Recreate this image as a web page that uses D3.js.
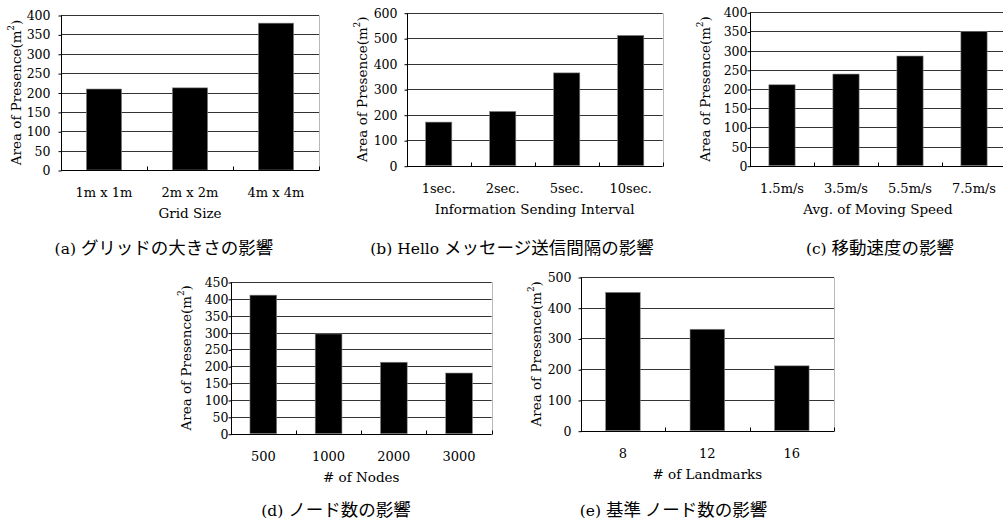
<!DOCTYPE html>
<html>
<head>
<meta charset="utf-8">
<script src="https://cdn.jsdelivr.net/npm/d3@7"></script>
<style>
  html, body { margin: 0; padding: 0; background: #fff; }
  svg { display: block; }
</style>
</head>
<body>
<svg id="fig" width="1003" height="521"></svg>
<script>
// ---- data ----
const gridSizeCats = ["1m x 1m", "2m x 2m", "4m x 4m"];
const gridSizeVals = [209, 212, 379];

const intervalCats = ["1sec.", "2sec.", "5sec.", "10sec."];
const intervalVals = [171, 213, 364, 511];

const speedCats = ["1.5m/s", "3.5m/s", "5.5m/s", "7.5m/s"];
const speedVals = [211, 239, 286, 350];

const nodeCats = ["500", "1000", "2000", "3000"];
const nodeVals = [411, 296, 212, 180];

const landmarkCats = ["8", "12", "16"];
const landmarkVals = [450, 330, 211];

const ticksA = [0, 50, 100, 150, 200, 250, 300, 350, 400];
const ticksB = [0, 100, 200, 300, 400, 500, 600];
const ticksC = [0, 50, 100, 150, 200, 250, 300, 350, 400];
const ticksD = [0, 50, 100, 150, 200, 250, 300, 350, 400, 450];
const ticksE = [0, 100, 200, 300, 400, 500];

const yLabel = "Area of Presence(m";

const SERIF = '"DejaVu Serif", "Liberation Serif", serif';
const CJK = '"Noto Sans CJK JP", "Noto Sans", sans-serif';

// ---- panel layout ----
const panels = [
  { cats: gridSizeCats, vals: gridSizeVals, ticks: ticksA, xTitle: "Grid Size",
    x0: 61, x1: 319, top: 15, bottom: 170, gap: 11,
    capX: 164, capY: 254, capSerif: "(a) ", capCjk: "グリッドの大きさの影響" },
  { cats: intervalCats, vals: intervalVals, ticks: ticksB, xTitle: "Information Sending Interval",
    x0: 406.7, x1: 662.7, top: 12.7, bottom: 165.7, gap: 10,
    capX: 512, capY: 254, capSerif: "(b) Hello ", capCjk: "メッセージ送信間隔の影響" },
  { cats: speedCats, vals: speedVals, ticks: ticksC, xTitle: "Avg. of Moving Speed",
    x0: 750, x1: 1006, top: 12.3, bottom: 165.7, gap: 3,
    capX: 880, capY: 254, capSerif: "(c) ", capCjk: "移動速度の影響" },
  { cats: nodeCats, vals: nodeVals, ticks: ticksD, xTitle: "# of Nodes",
    x0: 230.7, x1: 491.7, top: 282, bottom: 433.7, gap: 3,
    capX: 336, capY: 516, capSerif: "(d) ", capCjk: "ノード数の影響" },
  { cats: landmarkCats, vals: landmarkVals, ticks: ticksE, xTitle: "# of Landmarks",
    x0: 580.7, x1: 834, top: 277, bottom: 430.7, gap: 10,
    capX: 673.5, capY: 516, capSerif: "(e) ", capCjk: "基準 ノード数の影響" }
];

const svg = d3.select("#fig");
const BAR_FRAC = 0.41;

panels.forEach(p => {
  const g = svg.append("g");
  const x = d3.scaleBand().domain(p.cats).range([p.x0, p.x1]).padding(0);
  const y = d3.scaleLinear().domain([0, d3.max(p.ticks)]).range([p.bottom, p.top]);
  const bw = x.bandwidth() * BAR_FRAC;

  // horizontal grid lines
  g.selectAll("line.grid").data(p.ticks.filter(t => t > 0)).join("line")
    .attr("x1", p.x0).attr("x2", p.x1)
    .attr("y1", d => Math.round(y(d)) + 0.5).attr("y2", d => Math.round(y(d)) + 0.5)
    .attr("stroke", "#333").attr("stroke-width", 1);

  // right frame edge
  g.append("line")
    .attr("x1", Math.round(p.x1) + 0.5).attr("x2", Math.round(p.x1) + 0.5)
    .attr("y1", Math.round(y(d3.max(p.ticks))) + 0.5).attr("y2", Math.round(p.bottom) + 0.5)
    .attr("stroke", "#b8b8b8").attr("stroke-width", 1);

  // bars
  g.selectAll("rect.bar").data(p.vals).join("rect")
    .attr("x", (d, i) => x(p.cats[i]) + x.bandwidth() / 2 - bw / 2)
    .attr("width", bw)
    .attr("y", d => y(d))
    .attr("height", d => y(0) - y(d))
    .attr("fill", "#000")
    .attr("stroke", "#8a8a8a").attr("stroke-width", 0.6);

  // y axis
  const yAxis = d3.axisLeft(y).tickValues(p.ticks).tickSize(3).tickPadding(p.gap - 3)
    .tickFormat(d3.format("d"));
  const ya = g.append("g").attr("transform", `translate(${Math.round(p.x0) + 0.5},0.5)`).call(yAxis);
  ya.attr("font-family", null).attr("font-size", null);
  ya.select(".domain").attr("stroke", "#000").attr("d", `M0,${Math.round(y(d3.max(p.ticks)))}V${Math.round(p.bottom)}`);
  ya.selectAll(".tick line").attr("stroke", "#000");
  ya.selectAll(".tick text").style("font-family", SERIF).style("font-size", "12.5px").attr("fill", "#000");

  // x axis line with boundary ticks
  const yb = Math.round(p.bottom) + 0.5;
  g.append("line").attr("x1", p.x0).attr("x2", p.x1).attr("y1", yb).attr("y2", yb)
    .attr("stroke", "#000").attr("stroke-width", 1.2);
  const bounds = p.cats.map(c => x(c)).concat([p.x1]).slice(1);
  g.selectAll("line.xt").data(bounds).join("line")
    .attr("x1", d => Math.round(d) + 0.5).attr("x2", d => Math.round(d) + 0.5)
    .attr("y1", yb).attr("y2", yb - 4)
    .attr("stroke", "#000");

  // category labels
  g.selectAll("text.cat").data(p.cats).join("text")
    .style("font-family", SERIF).style("font-size", "13px")
    .attr("x", d => x(d) + x.bandwidth() / 2)
    .attr("y", p.bottom + 27)
    .attr("text-anchor", "middle")
    .text(d => d);

  // x title
  g.append("text")
    .style("font-family", SERIF).style("font-size", "13.5px")
    .attr("x", (p.x0 + p.x1) / 2).attr("y", p.bottom + 48)
    .attr("text-anchor", "middle")
    .text(p.xTitle);

  // y title (rotated)
  const yt = g.append("text")
    .style("font-family", SERIF).style("font-size", "13.5px")
    .attr("transform", `translate(${p.x0 - 45},${(p.top + p.bottom) / 2}) rotate(-90)`)
    .attr("text-anchor", "middle").attr("dominant-baseline", "central");
  yt.append("tspan").text(yLabel);
  yt.append("tspan").style("font-size", "8.5px").attr("dy", -5).text("2");
  yt.append("tspan").attr("dy", 5).text(")");

  // caption
  const cap = g.append("text").attr("x", p.capX).attr("y", p.capY).attr("text-anchor", "middle");
  cap.append("tspan").style("font-family", SERIF).style("font-size", "15.5px").text(p.capSerif);
  cap.append("tspan").style("font-family", CJK).style("font-size", "17.5px").text(p.capCjk);
});
</script>
</body>
</html>
